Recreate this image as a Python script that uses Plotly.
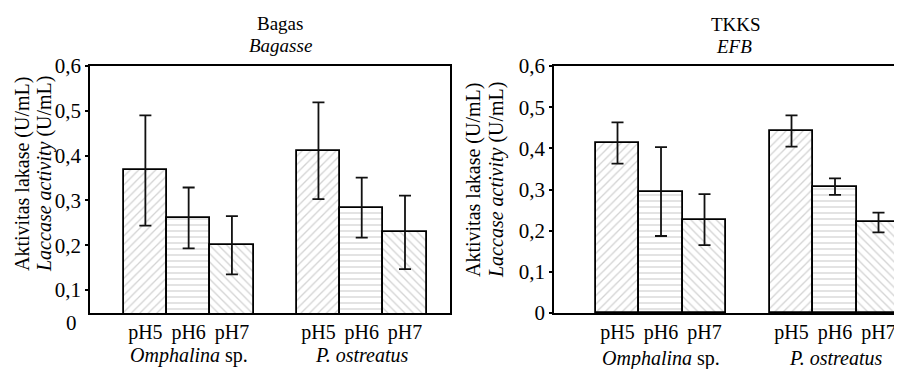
import plotly.graph_objects as go

species = ["<i>Omphalina</i> sp.", "<i>P. ostreatus</i>"]
ph_labels = ["pH5", "pH6", "pH7"]
patterns = ["/", "-", "\\"]

bagas_mean = [0.367, 0.261, 0.200, 0.411, 0.284, 0.229]
bagas_err = [0.123, 0.068, 0.065, 0.108, 0.067, 0.082]
tkks_mean = [0.413, 0.295, 0.227, 0.442, 0.307, 0.220]
tkks_err = [0.050, 0.108, 0.062, 0.038, 0.020, 0.024]

y_ticks = [0.1, 0.2, 0.3, 0.4, 0.5, 0.6]
y_ticks_right = [0, 0.1, 0.2, 0.3, 0.4, 0.5, 0.6]

FONT = "Liberation Serif"
OFF = 8  # page body margin
W, H = 902 - OFF, 369 - OFF


def px(v):
    return (v - OFF) / W


def py(v):
    return 1 - (v - OFF) / H


# bar positions: one empty slot between species groups
positions = []
labels = []
shapes = []
for g in range(len(species)):
    for k in range(len(ph_labels)):
        positions.append(g * (len(ph_labels) + 1) + k)
        labels.append(ph_labels[k])
        shapes.append(patterns[k])
group_centers = [sum(positions[g * 3:(g + 1) * 3]) / 3 for g in range(len(species))]


def fmt(v):
    return ("%g" % v).replace(".", ",")


fig = go.Figure()
for means, errs, xa, ya in [(bagas_mean, bagas_err, "x", "y"), (tkks_mean, tkks_err, "x2", "y2")]:
    fig.add_trace(go.Bar(
        x=positions, y=means, width=1, xaxis=xa, yaxis=ya,
        marker=dict(color="white", line=dict(color="black", width=1.8),
                    pattern=dict(shape=shapes, fgcolor="#a8a8a8", bgcolor="white",
                                 size=6, solidity=0.22)),
        error_y=dict(type="data", array=errs, visible=True, color="#111111",
                     thickness=1.8, width=6),
        showlegend=False,
    ))

axis_common = dict(showgrid=False, zeroline=False, showline=True, linecolor="black",
                   linewidth=1.8, automargin=False)
tf = dict(size=20, family=FONT, color="black")
yf = dict(size=21, family=FONT, color="black")
fig.update_layout(
    width=W, height=H, margin=dict(l=0, r=0, t=0, b=0, autoexpand=False),
    paper_bgcolor="white", plot_bgcolor="white",
    font=dict(family=FONT, color="black", size=20),
    bargap=0,
    xaxis=dict(domain=[px(90), px(450)], range=[-1.28, 7.04], tickvals=positions,
               ticktext=labels, mirror=True, ticks="", ticklen=0, tickfont=tf, **axis_common),
    yaxis=dict(domain=[py(313), py(66)], range=[0.049, 0.6],
               tickvals=y_ticks, ticktext=[fmt(v) for v in y_ticks], mirror=True,
               ticks="outside", ticklen=3, tickwidth=1.5, tickcolor="black",
               tickfont=yf, **axis_common),
    xaxis2=dict(domain=[px(554), 1.0], range=[-1.46, 6.54], tickvals=positions,
                ticktext=labels, anchor="y2", mirror=True, ticks="", ticklen=0,
                tickfont=tf, **axis_common),
    yaxis2=dict(domain=[py(313), py(66)], range=[0, 0.6], anchor="x2",
                tickvals=y_ticks_right, ticktext=[fmt(v) for v in y_ticks_right],
                ticks="outside", ticklen=3, tickwidth=1.5, tickcolor="black",
                tickfont=yf, **axis_common),
)

ann = []


def add(text, x, y, size, **kw):
    d = dict(text=text, x=x, y=y, xref="paper", yref="paper", showarrow=False,
             xanchor="center", yanchor="middle",
             font=dict(size=size, family=FONT, color="black"))
    d.update(kw)
    ann.append(d)


# titles
add("Bagas", px(280), py(23), 19)
add("<i>Bagasse</i>", px(280), py(45), 19)
add("TKKS", px(736), py(25), 19)
add("<i>EFB</i>", px(734), py(46), 19)
# y titles
for x1, x2, yc in [(22, 44, 174), (473, 496, 180)]:
    add("Aktivitas lakase (U/mL)", px(x1), py(yc), 20, textangle=-90)
    add("<i>Laccase activity</i> (U/mL)", px(x2), py(yc), 20, textangle=-90)
# zero label of left chart
add("0", -0.03, -0.04, 21, xref="x domain", yref="y domain", xanchor="right")
# species labels
for xa, yc in [("x", 355), ("x2", 358)]:
    for g, sp in enumerate(species):
        add(sp, group_centers[g], py(yc), 20, xref=xa)
fig.update_layout(annotations=ann)

fig.write_html("out.html")
